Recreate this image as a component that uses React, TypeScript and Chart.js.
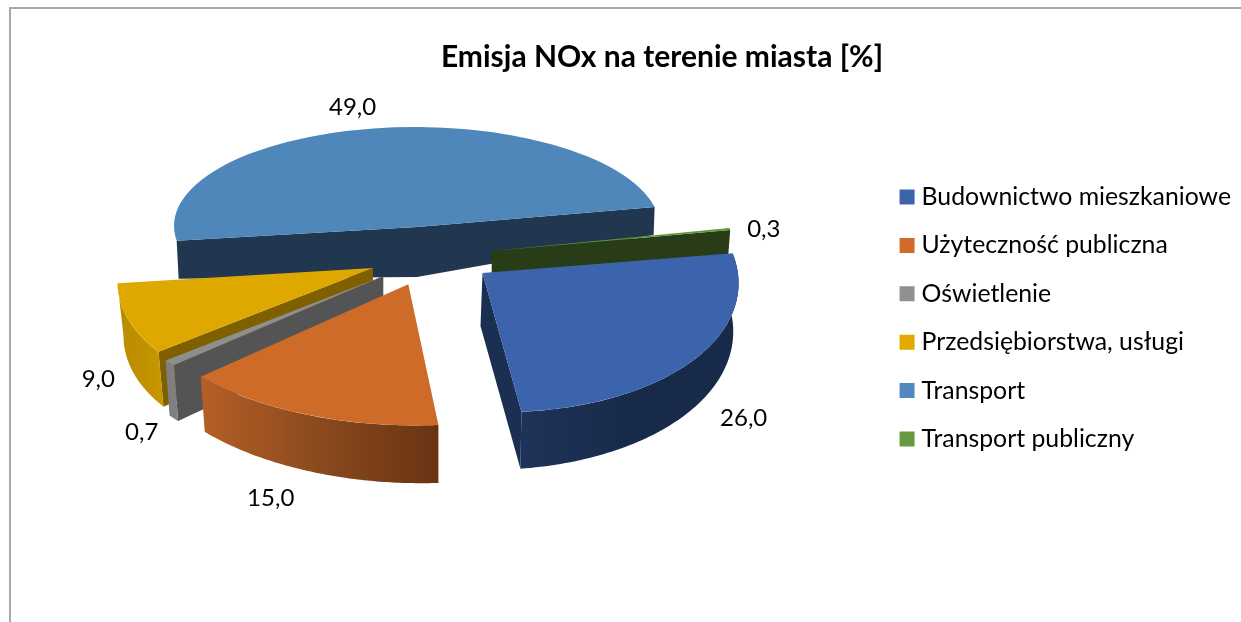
import React, { useEffect, useRef } from "react";
import { Chart, registerables } from "chart.js";

Chart.register(...registerables);

const categories = [
  "Budownictwo mieszkaniowe",
  "Użyteczność publiczna",
  "Oświetlenie",
  "Przedsiębiorstwa, usługi",
  "Transport",
  "Transport publiczny",
];
const shares = [26.0, 15.0, 0.7, 9.0, 49.0, 0.3];
const topColors = ["#3B64AD", "#CE6B29", "#8E8E8E", "#DFA800", "#4F87BA", "#5F9737"];
const legendColors = ["#3B64AD", "#D06B2C", "#909090", "#E2A900", "#5088BF", "#659B3E"];
const chartTitle = "Emisja NOx na terenie miasta [%]";

const FONT = "Lato";

// Pseudo-3D look of each slice: how the flat arc is tilted, and how its walls are extruded.
const sliceViews = [
  { ax: 482.5, ay: 273, a: 256, b: 7, c: 6, d: 139, start: [-6, 45], end: [-1, 57], apex: [-2, 53], faces: ["end"], face: "#1B2F53", wall: ["#1E3359", "#182A4A", "#182A4A"], outer: true, label: [50, 58] },
  { ax: 408.3, ay: 284.3, a: 280, b: 6, c: -6, d: 141, start: [0, 58], end: [4, 55], apex: [0, 50], faces: [], face: "#7A3E17", wall: ["#B55F25", "#8A4A1E", "#693312"], outer: true, label: [-38, 83] },
  { ax: 383.3, ay: 276, a: 288, b: 6, c: 0, d: 136, start: [4, 56], end: [4, 55], apex: [0, 50], faces: ["start"], face: "#545454", wall: ["#7F7F7F", "#7F7F7F", "#7F7F7F"], outer: true, label: [-28, 69] },
  { ax: 373, ay: 268, a: 253, b: 4.4, c: -35.5, d: 132.9, start: [5, 55], end: [6, 53], apex: [0, 45], faces: ["start"], face: "#7F6000", wall: ["#B88B00", "#BF9000", "#C69600"], outer: true, label: [-30, 60] },
  { ax: 417, ay: 227, a: 243, b: 1, c: 0, d: 100, start: [2, 38], end: [-1, 28], apex: [0, 50], faces: ["start", "end"], face: "#20374F", wall: ["#20374F", "#20374F", "#20374F"], outer: false, label: [-21, -21] },
  { ax: 491.7, ay: 251, a: 243, b: -2, c: 0, d: 100, start: [-2, 25], end: [-2, 25], apex: [0, 25], faces: ["end"], face: "#283D17", wall: ["#283D17", "#283D17", "#283D17"], outer: false, label: [34, 0] },
];
const drawOrder = [4, 5, 3, 2, 0, 1];

function rim(v: any, th: number) {
  return { x: v.ax + v.a * Math.cos(th) + v.c * Math.sin(th), y: v.ay + v.b * Math.cos(th) + v.d * Math.sin(th) };
}

const pseudo3d = {
  id: "pseudo3d",
  beforeDatasetsDraw(chart: any) {
    const ctx = chart.ctx;
    const arcs = chart.getDatasetMeta(0).data;
    for (const i of drawOrder) {
      const arc = arcs[i];
      const v: any = sliceViews[i];
      const { startAngle: s, endAngle: e, outerRadius: R } = arc.getProps(["startAngle", "endAngle", "outerRadius"]);
      const bottom = (th: number) => {
        const t = (th - s) / (e - s);
        const p = rim(v, th);
        return { x: p.x + v.start[0] + (v.end[0] - v.start[0]) * t, y: p.y + v.start[1] + (v.end[1] - v.start[1]) * t };
      };
      // inner cut faces
      ctx.fillStyle = v.face;
      for (const f of v.faces) {
        const th = f === "start" ? s : e;
        const p = rim(v, th);
        const q = bottom(th);
        ctx.beginPath();
        ctx.moveTo(v.ax, v.ay);
        ctx.lineTo(p.x, p.y);
        ctx.lineTo(q.x, q.y);
        ctx.lineTo(v.ax + v.apex[0], v.ay + v.apex[1]);
        ctx.closePath();
        ctx.fill();
      }
      // outer curved wall
      if (v.outer) {
        const steps = 80;
        let minX = Infinity;
        let maxX = -Infinity;
        ctx.beginPath();
        for (let k = 0; k <= steps; k++) {
          const p = rim(v, s + ((e - s) * k) / steps);
          minX = Math.min(minX, p.x);
          maxX = Math.max(maxX, p.x);
          if (k === 0) ctx.moveTo(p.x, p.y);
          else ctx.lineTo(p.x, p.y);
        }
        for (let k = steps; k >= 0; k--) {
          const p = bottom(s + ((e - s) * k) / steps);
          ctx.lineTo(p.x, p.y);
        }
        ctx.closePath();
        const g = ctx.createLinearGradient(minX, 0, maxX, 0);
        g.addColorStop(0, v.wall[0]);
        g.addColorStop(0.5, v.wall[1]);
        g.addColorStop(1, v.wall[2]);
        ctx.fillStyle = g;
        ctx.fill();
      }
      // flat top drawn by the library's own arc element
      ctx.save();
      ctx.transform(v.a / R, v.b / R, v.c / R, v.d / R, v.ax, v.ay);
      ctx.translate(-arc.x, -arc.y);
      arc.draw(ctx);
      ctx.restore();
    }
    // value labels
    ctx.save();
    ctx.fillStyle = "#000";
    ctx.font = `24px ${FONT}`;
    ctx.textAlign = "center";
    ctx.textBaseline = "middle";
    arcs.forEach((arc: any, i: number) => {
      const v: any = sliceViews[i];
      const { startAngle: s, endAngle: e } = arc.getProps(["startAngle", "endAngle"]);
      const p = rim(v, (s + e) / 2);
      ctx.fillText(shares[i].toFixed(1).replace(".", ","), p.x + v.label[0], p.y + v.label[1]);
    });
    ctx.restore();
    return false;
  },
};

export default function App() {
  const ref = useRef<HTMLCanvasElement>(null);
  useEffect(() => {
    const chart = new Chart(ref.current as HTMLCanvasElement, {
      type: "pie",
      data: {
        labels: categories,
        datasets: [{ data: shares, backgroundColor: topColors, borderWidth: 0 }],
      },
      options: {
        responsive: false,
        animation: false,
        rotation: 79,
        layout: { padding: { left: 83, right: 0, top: 14, bottom: 0 } },
        plugins: {
          title: {
            display: true,
            text: chartTitle,
            color: "#000",
            font: { family: FONT, size: 30, weight: "bold" },
            padding: { top: 25, bottom: 10 },
          },
          legend: {
            position: "right",
            labels: {
              color: "#000",
              font: { family: FONT, size: 24.8 },
              usePointStyle: true,
              pointStyle: "rect",
              boxWidth: 4.2,
              boxHeight: 15,
              padding: 23.6,
              generateLabels: (c: any) =>
                Chart.overrides.pie.plugins.legend.labels.generateLabels(c).map((l: any, i: number) => ({
                  ...l,
                  fillStyle: legendColors[i],
                })),
            },
          },
          tooltip: { enabled: false },
        },
      } as any,
      plugins: [pseudo3d],
    });
    return () => chart.destroy();
  }, []);
  return (
    <div style={{ position: "fixed", left: 0, top: 0, width: 1241, height: 622, background: "#fff", overflow: "hidden" }}>
      <div style={{ position: "absolute", left: 9, top: 7, right: 0, bottom: 0, borderLeft: "2px solid #a8a8a8", borderTop: "2px solid #a8a8a8" }} />
      <canvas ref={ref} width={1241} height={622} style={{ position: "absolute", left: 0, top: 0 }} />
    </div>
  );
}
